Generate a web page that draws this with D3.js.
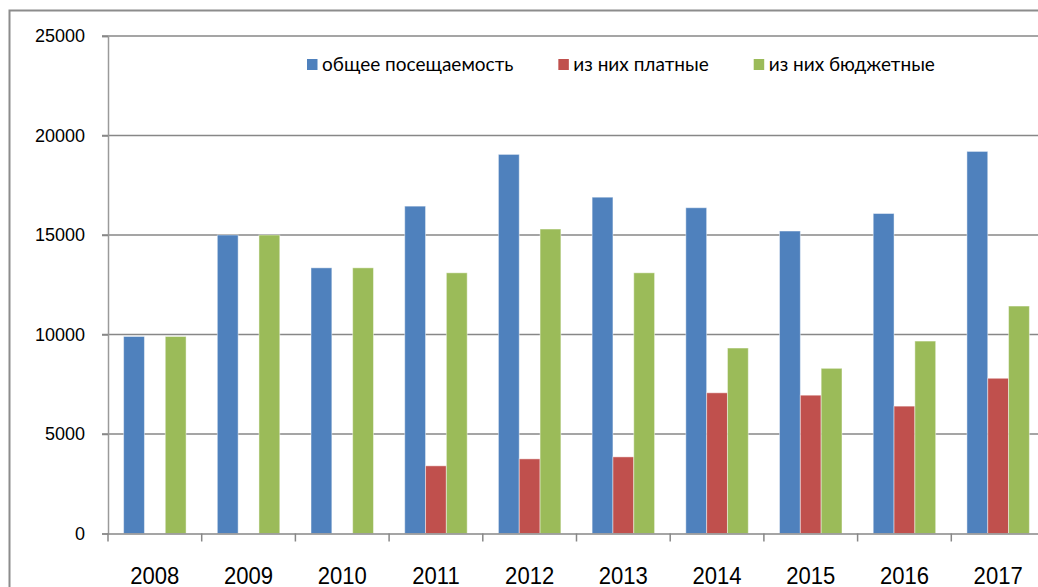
<!DOCTYPE html>
<html>
<head>
<meta charset="utf-8">
<script src="https://cdn.jsdelivr.net/npm/d3@7"></script>
<style>
  body { margin: 0; background: #fff; }
  svg { display: block; font-family: Lato, "Noto Sans", sans-serif; }
</style>
</head>
<body>
<div id="chart"></div>
<script>
// values
const years = ['2008', '2009', '2010', '2011', '2012', '2013', '2014', '2015', '2016', '2017'];
const seriesNames = ['общее посещаемость', 'из них платные', 'из них бюджетные'];
const total = [9900, 15000, 13350, 16450, 19050, 16900, 16370, 15200, 16080, 19200];
const paid = [0, 0, 0, 3400, 3750, 3850, 7070, 6950, 6400, 7800];
const budget = [9900, 15000, 13350, 13100, 15300, 13100, 9320, 8300, 9670, 11430];
const yTicks = [0, 5000, 10000, 15000, 20000, 25000];
const colors = ['#4F81BD', '#C0504D', '#9BBB59'];

const W = 1038, H = 587;
const plotLeft = 108, plotTop = 36, plotBottom = 533.5;
const step = 93.7;

const svg = d3.select('#chart').append('svg')
  .attr('width', W)
  .attr('height', H);

// outer chart frame (cut off on right/bottom like the picture)
svg.append('rect')
  .attr('x', 9.5).attr('y', 10.5)
  .attr('width', 1200).attr('height', 800)
  .attr('fill', 'none')
  .attr('stroke', '#8c8c8c')
  .attr('stroke-width', 2);

const x = d3.scaleBand()
  .domain(years)
  .range([plotLeft, plotLeft + step * years.length]);

const x1 = d3.scaleBand()
  .domain(seriesNames)
  .range([0, x.bandwidth()])
  .paddingOuter(0.75);

const y = d3.scaleLinear().domain([0, 25000]).range([plotBottom, plotTop]);

// gridlines
svg.append('g')
  .selectAll('line')
  .data(yTicks.filter(d => d > 0))
  .enter()
  .append('line')
  .attr('x1', plotLeft - 6)
  .attr('x2', W)
  .attr('y1', d => y(d))
  .attr('y2', d => y(d))
  .attr('stroke', '#878787')
  .attr('stroke-width', 1.5);

// y axis
const yAxis = svg.append('g')
  .attr('transform', `translate(${plotLeft},0)`)
  .call(d3.axisLeft(y).tickValues(yTicks).tickSize(6).tickPadding(17).tickFormat(d3.format('d')));
yAxis.select('.domain').attr('stroke', '#9a9a9a').attr('stroke-width', 1.5);
yAxis.selectAll('.tick line').attr('stroke', '#878787').attr('stroke-width', 1.5);
yAxis.selectAll('text').attr('font-size', 18).attr('fill', '#000');

// bars
const series = [total, paid, budget];
series.forEach((vals, si) => {
  svg.append('g')
    .selectAll('rect')
    .data(vals)
    .enter()
    .append('rect')
    .attr('x', (d, i) => x(years[i]) + x1(seriesNames[si]))
    .attr('y', d => y(d))
    .attr('width', x1.bandwidth())
    .attr('height', d => y(0) - y(d))
    .attr('fill', colors[si])
    .attr('stroke', 'rgba(255,255,255,0.45)')
    .attr('stroke-width', 1);
});

// x axis
const xAxis = svg.append('g')
  .attr('transform', `translate(0,${plotBottom})`)
  .call(d3.axisBottom(x).tickSize(0).tickPadding(33));
xAxis.select('.domain').attr('stroke', '#878787').attr('stroke-width', 1.5);
xAxis.selectAll('text')
  .attr('font-size', 24.5)
  .attr('fill', '#000')
  .attr('dy', '0.72em')
  .each(function () {
    // narrow the digits a little, like Calibri
    const w = this.getComputedTextLength() * 0.9;
    d3.select(this).attr('textLength', w).attr('lengthAdjust', 'spacingAndGlyphs');
  });

// category separator ticks
svg.append('g')
  .selectAll('line')
  .data(years)
  .enter()
  .append('line')
  .attr('x1', d => x(d))
  .attr('x2', d => x(d))
  .attr('y1', plotBottom)
  .attr('y2', plotBottom + 8)
  .attr('stroke', '#878787')
  .attr('stroke-width', 1.5);

// legend
const legend = svg.append('g').attr('transform', 'translate(307,59)');
let lx = 0;
seriesNames.forEach((name, i) => {
  const g = legend.append('g').attr('transform', `translate(${lx},0)`);
  g.append('rect')
    .attr('width', 10.5).attr('height', 11)
    .attr('y', 0)
    .attr('fill', colors[i]);
  const t = g.append('text')
    .attr('x', 15)
    .attr('y', 11.7)
    .attr('font-size', 19)
    .attr('fill', '#000')
    .text(name);
  lx += 15 + t.node().getComputedTextLength() + 45;
});
</script>
</body>
</html>
